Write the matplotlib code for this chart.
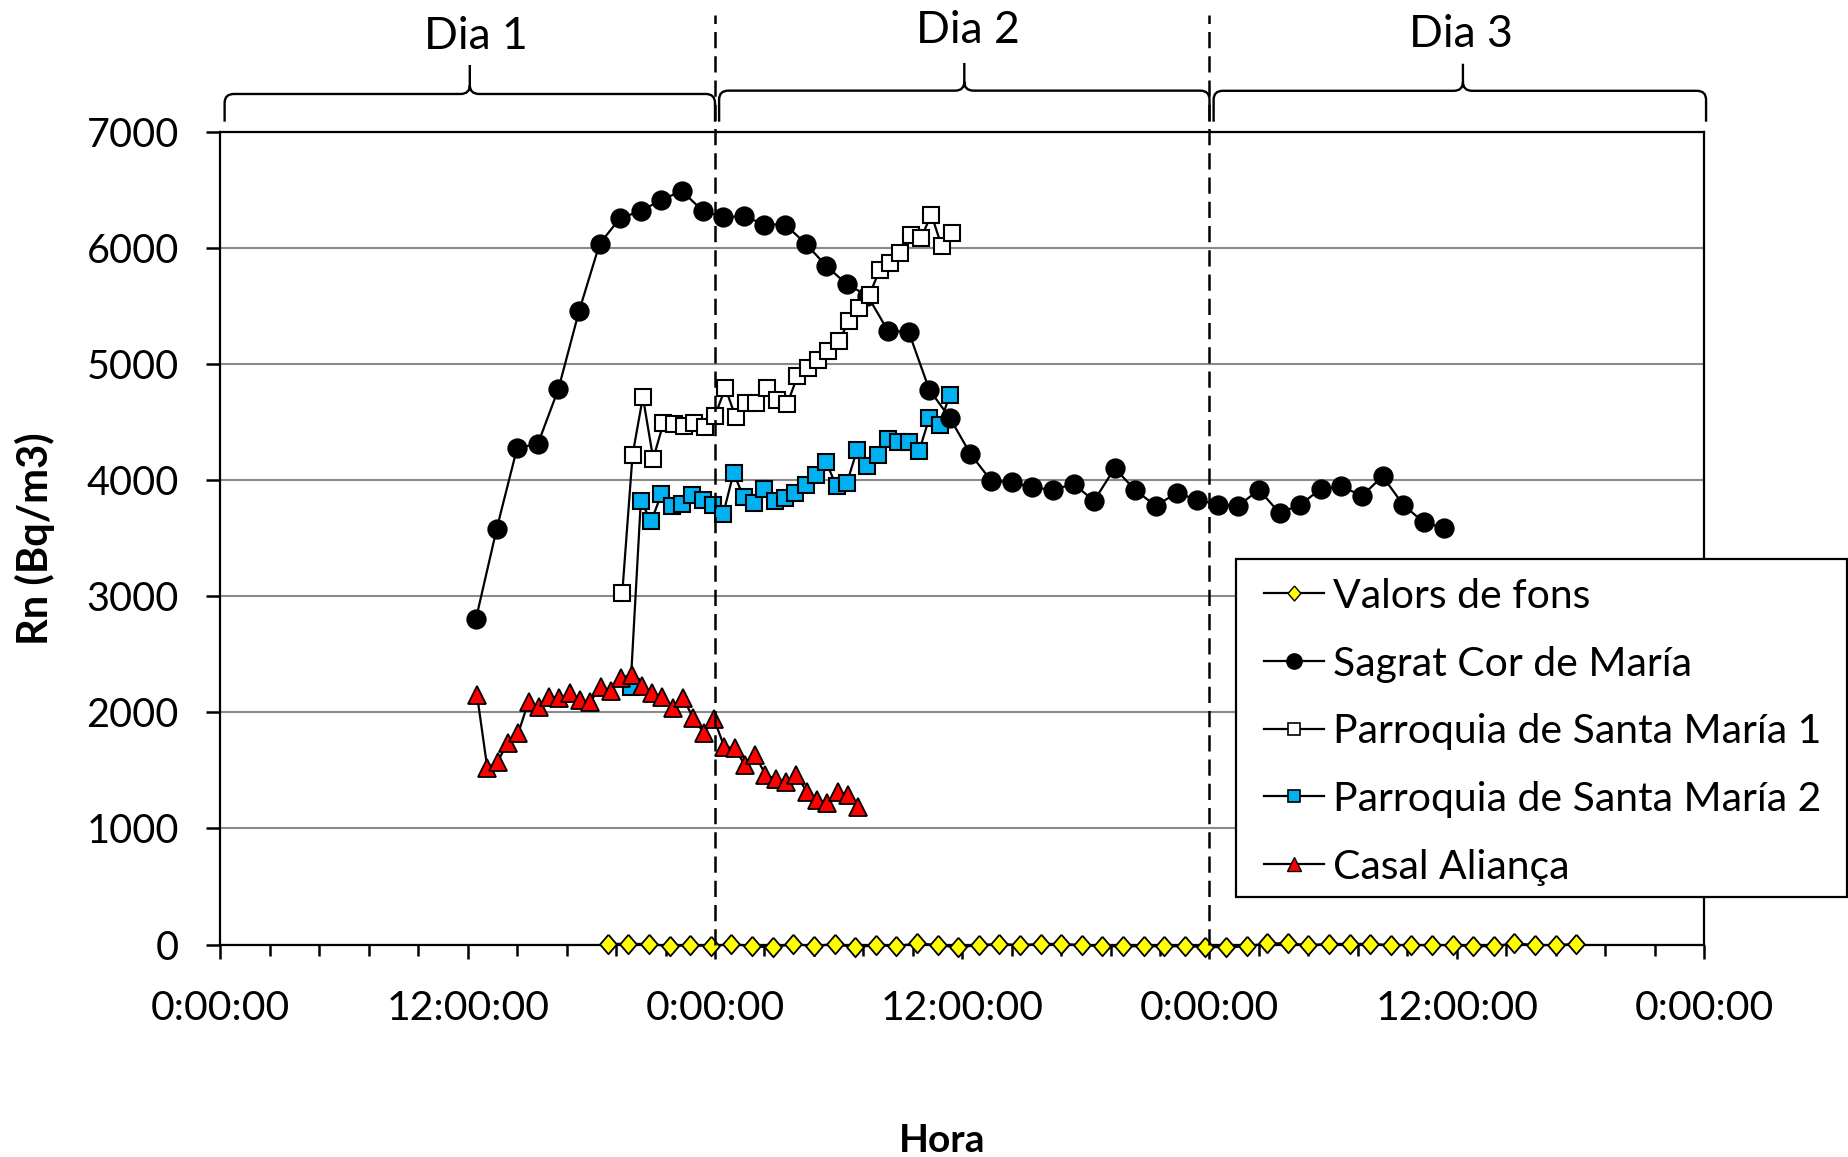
import numpy as np
import matplotlib
matplotlib.use('Agg')
import matplotlib.pyplot as plt
import matplotlib.transforms as mtransforms
from matplotlib.path import Path
from matplotlib.patches import PathPatch, Rectangle
from matplotlib.lines import Line2D

plt.rcParams['font.family'] = ['Lato', 'DejaVu Sans']

# ---------------- data (time axis in hours from 0:00 of day 1) ----------------
series_names = ['Valors de fons', 'Sagrat Cor de María',
                'Parroquia de Santa María 1', 'Parroquia de Santa María 2',
                'Casal Aliança']

fons_start, fons_step = 18.8, 1.0
fons_values = [5, 5, 5, -15, -5, -15, 5, -15, -25, 5, -15, 5, -25, -5, -15, 10,
               -5, -25, -5, 5, -5, 5, 5, -5, -15,
               -15, -15, -15, -15, -20, -25, -15, 10, 10, -5, 5, 5, 5, -5, -5,
               -5, -5, -15, -15, 10, -5, -5, 5]

sagrat_start, sagrat_step = 12.4, 1.0
sagrat_values = [2806, 3578, 4280, 4311, 4786, 5455, 6036, 6260, 6317, 6418,
                 6490, 6322, 6265, 6275, 6203, 6203, 6039, 5846, 5688, 5590,
                 5286, 5279, 4780, 4536, 4226, 3996, 3984, 3938, 3918, 3967,
                 3823, 4105, 3912, 3780, 3890, 3832, 3789, 3780, 3918, 3717,
                 3789, 3924, 3947, 3866, 4033, 3789, 3636, 3588]

psm1_start, psm1_step = 19.5, 0.5
psm1_values = [3030, 4220, 4717, 4186, 4493, 4482, 4470, 4495, 4460, 4555,
               4795, 4545, 4665, 4665, 4797, 4694, 4654, 4895, 4967, 5039,
               5110, 5197, 5369, 5484, 5599, 5815, 5872, 5959, 6116, 6088,
               6289, 6016, 6131]

psm2_start, psm2_step = 19.9, 0.5
psm2_values = [2220, 3823, 3645, 3881, 3774, 3795, 3875, 3832, 3789, 3711,
               4062, 3852, 3803, 3924, 3817, 3846, 3889, 3961, 4047, 4153,
               3947, 3976, 4263, 4119, 4214, 4358, 4326, 4326, 4248, 4536,
               4478, 4737]

casal_start, casal_step = 12.45, 0.5
casal_values = [2151, 1519, 1576, 1740, 1820, 2093, 2050, 2136, 2122, 2165,
                2108, 2093, 2217, 2188, 2300, 2323, 2228, 2165, 2136, 2036,
                2122, 1950, 1826, 1941, 1705, 1691, 1547, 1634, 1461, 1427,
                1404, 1461, 1317, 1246, 1222, 1317, 1289, 1188]

x_tick_hours = [0, 12, 24, 36, 48, 60, 72]
x_tick_labels = ['0:00:00', '12:00:00', '0:00:00', '12:00:00', '0:00:00',
                 '12:00:00', '0:00:00']
y_ticks = [0, 1000, 2000, 3000, 4000, 5000, 6000, 7000]
day_labels = ['Dia 1', 'Dia 2', 'Dia 3']
day_bounds = [0, 24, 48, 72]
x_label = 'Hora'
y_label = 'Rn (Bq/m3)'


def times(start, step, vals):
    return start + step * np.arange(len(vals))


# ---------------- figure ----------------
W, H = 1849, 1157
fig = plt.figure(figsize=(W / 100, H / 100), dpi=100)
fig.patch.set_facecolor('white')
ax = fig.add_axes([220.5 / W, 1 - 944.5 / H, (1704 - 220.5) / W, (944.5 - 132) / H])

ax.set_xlim(0, 72)
ax.set_ylim(0, 7000)

diamond = [(0, 1), (0.86, 0), (0, -1), (-0.86, 0), (0, 1)]
line_kw = dict(color='black', lw=1.6, clip_on=False)
styles = [
    dict(marker=diamond, ms=14.0, mfc='#ffff00', mec='black', mew=1.3, zorder=3),
    dict(marker='o', ms=13.4, mfc='black', mec='black', mew=1.2, zorder=5),
    dict(marker='s', ms=11.6, mfc='white', mec='black', mew=1.5, zorder=6),
    dict(marker='s', ms=11.6, mfc='#00b0f0', mec='black', mew=1.5, zorder=4),
    dict(marker='^', ms=12.8, mfc='#ff0000', mec='black', mew=1.3, zorder=7),
]
data = [
    (times(fons_start, fons_step, fons_values), fons_values),
    (times(sagrat_start, sagrat_step, sagrat_values), sagrat_values),
    (times(psm1_start, psm1_step, psm1_values), psm1_values),
    (times(psm2_start, psm2_step, psm2_values), psm2_values),
    (times(casal_start, casal_step, casal_values), casal_values),
]
for (t, v), st in zip(data, styles):
    ax.plot(t, v, **line_kw, **st)

# grid and frame
ax.yaxis.grid(True, color='#8a8a8a', lw=1.5)
ax.set_axisbelow(True)
for s in ax.spines.values():
    s.set_linewidth(1.6)
    s.set_color('black')

ax.set_xticks(x_tick_hours)
ax.set_xticklabels(x_tick_labels)
ax.set_xticks(np.arange(0, 72.01, 2.4), minor=True)
ax.set_yticks(y_ticks)
ax.set_yticklabels([str(v) for v in y_ticks])
ax.tick_params(axis='x', which='major', direction='out', length=10, width=1.8,
               pad=23, labelsize=29.5, top=False)
ax.tick_params(axis='x', which='minor', direction='out', length=8, width=1.8, top=False)
ax.tick_params(axis='y', which='major', direction='out', length=10, width=1.8,
               pad=20, labelsize=28.5, right=False)

# day separators
trans = mtransforms.blended_transform_factory(ax.transData, ax.transAxes)
for b in day_bounds[1:-1]:
    ax.plot([b, b], [0, 1.144], transform=trans, color='black', lw=1.8,
            ls=(0, (6.5, 3.2)), clip_on=False, zorder=8)

# braces
def brace(x0, x1, xc, yb, yh, yt, r=0.45, d=0.011):
    M, L, C = Path.MOVETO, Path.LINETO, Path.CURVE3
    verts = [(x0, yb), (x0, yh - d), (x0, yh), (x0 + r, yh),
             (xc - r, yh), (xc, yh), (xc, yh + d), (xc, yt),
             (xc, yh + d), (xc, yh), (xc + r, yh),
             (x1 - r, yh), (x1, yh), (x1, yh - d), (x1, yb)]
    codes = [M, L, C, C, L, C, C, L, M, C, C, L, C, C, L]
    p = PathPatch(Path(verts, codes), transform=trans, fill=False,
                  edgecolor='black', lw=1.7, clip_on=False, capstyle='butt')
    ax.add_patch(p)

brace_specs = [(0.2, 24.0, 12.1, 1.0127, 1.0468, 1.0825),
               (24.2, 48.0, 36.1, 1.0127, 1.0509, 1.0850),
               (48.2, 72.1, 60.3, 1.0127, 1.0507, 1.0840)]
for spec in brace_specs:
    brace(*spec)

day_text_pos = [(12.4, 1.1025), (36.3, 1.1090), (60.2, 1.1050)]
for lab, (hx, fy) in zip(day_labels, day_text_pos):
    ax.text(hx, fy, lab, transform=trans, ha='center', va='baseline',
            fontsize=32, clip_on=False)

# axis titles
fig.text(35 / W, 1 - 539 / H, y_label, rotation=90, ha='center', va='center',
         fontsize=30, fontweight='bold')
fig.text(942.6 / W, 1 - 1152 / H, x_label, ha='center', va='baseline',
         fontsize=28, fontweight='bold')

# legend (box + entries, positions in figure pixels)
leg_box = Rectangle((1236 / W, 1 - 896.5 / H), (1847 - 1236) / W, (896.5 - 559) / H,
                    transform=fig.transFigure, facecolor='white', edgecolor='black',
                    lw=1.6, zorder=4)
fig.add_artist(leg_box)
leg_styles = [
    dict(marker=diamond, ms=10.8, mfc='#ffff00', mec='black', mew=1.0),
    dict(marker='o', ms=11.0, mfc='black', mec='black', mew=1.0),
    dict(marker='s', ms=9.2, mfc='white', mec='black', mew=1.2),
    dict(marker='s', ms=9.2, mfc='#00b0f0', mec='black', mew=1.2),
    dict(marker='^', ms=10.0, mfc='#ff0000', mec='black', mew=1.0),
]
leg_baselines = [608, 676, 743.5, 811, 878.5]
hx0, hx1, tx = 1264, 1324, 1333
for name, st, b in zip(series_names, leg_styles, leg_baselines):
    yc = 1 - (b - 15) / H
    fig.add_artist(Line2D([hx0 / W, (hx0 + hx1) / 2 / W, hx1 / W], [yc, yc, yc],
                          transform=fig.transFigure, color='black', lw=1.6,
                          markevery=[1], zorder=5, **st))
    fig.text(tx / W, 1 - b / H, name, ha='left', va='baseline', fontsize=29.5,
             zorder=5)

fig.savefig('out.png', dpi=100, facecolor='white')
